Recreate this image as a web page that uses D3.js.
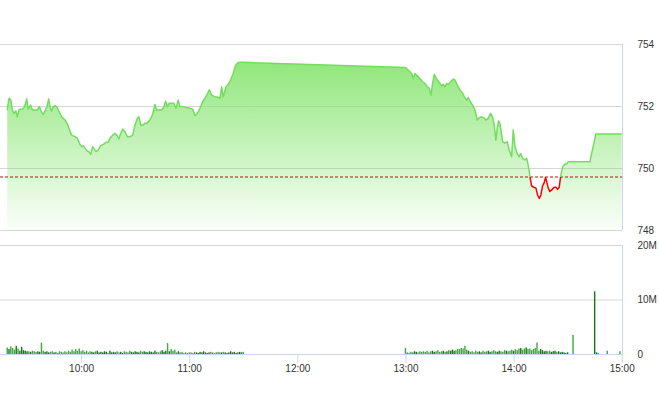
<!DOCTYPE html>
<html><head><meta charset="utf-8">
<script src="https://cdn.jsdelivr.net/npm/d3@7"></script>
<style>
html,body{margin:0;padding:0;background:#fff;}
svg{display:block;font-family:"Liberation Sans",Arial,sans-serif;}
</style></head><body>
<svg id="chart" width="660" height="412"></svg>
<script>
// ---------- data ----------
const priceTimes = [
"09:19:00","09:20:00","09:21:00","09:21:50","09:22:45","09:23:45","09:24:35","09:25:30","09:26:30","09:27:35",
"09:28:40","09:29:50","09:30:40","09:32:00","09:32:55","09:34:25","09:35:40","09:36:50","09:37:55","09:39:00",
"09:40:10","09:41:05","09:42:00","09:42:45","09:43:40","09:44:35","09:45:30","09:46:45","09:47:55","09:49:15",
"09:51:05","09:52:35","09:53:50","09:54:45","09:56:35","09:57:55","09:59:25","10:00:20","10:01:15","10:02:10",
"10:03:25","10:04:35","10:05:20","10:06:25","10:07:20","10:08:15","10:09:30","10:10:50","10:12:20","10:13:50",
"10:15:05","10:16:00","10:17:30","10:18:50","10:20:05","10:21:00","10:22:00","10:23:05","10:24:20","10:25:40",
"10:27:10","10:28:40","10:29:55","10:31:10","10:32:05","10:33:05","10:34:30","10:35:25","10:36:25","10:37:50",
"10:39:10","10:40:05","10:41:00","10:41:55","10:43:25","10:44:45","10:46:00","10:46:55","10:47:50","10:48:55",
"10:50:15","10:51:30","10:52:40","10:53:55","10:54:50","10:56:40","10:58:35","11:00:25","11:01:55","11:03:10",
"11:04:30","11:06:00","11:07:30","11:08:45","11:10:00","11:11:10","11:12:30","11:14:15","11:16:05","11:17:05",
"11:18:00","11:18:55","11:20:25","11:21:40","11:23:00","11:24:25","11:25:25","11:26:40","11:28:10","11:30:00",
"13:00:00","13:01:30","13:03:25","13:04:20","13:05:15","13:06:30","13:08:00","13:09:30","13:10:50","13:12:05",
"13:13:10","13:14:10","13:15:05","13:16:00","13:17:20","13:18:45","13:20:05","13:21:00","13:21:55","13:22:50",
"13:23:45","13:25:05","13:26:30","13:27:25","13:28:45","13:30:15","13:31:45","13:33:00","13:33:55","13:34:50",
"13:35:45","13:37:15","13:38:35","13:39:50","13:40:55","13:42:15","13:43:30","13:44:40","13:45:55","13:47:15",
"13:48:20","13:49:15","13:50:10","13:50:55","13:51:40","13:52:25","13:53:55","13:55:10","13:56:30","13:57:35",
"13:58:55","13:59:50","14:00:45","14:02:00","14:03:05","14:03:55","14:05:00","14:06:15","14:07:15","14:08:05",
"14:09:05","14:10:00","14:11:15","14:12:25","14:13:20","14:14:15","14:15:10","14:16:05","14:17:00","14:17:45",
"14:18:20","14:19:15","14:20:10","14:21:25","14:22:35","14:23:30","14:24:25","14:25:20","14:26:05","14:27:15",
"14:28:30","14:29:25","14:30:20","14:42:20","14:45:40","15:00:00"];
const priceValues = [
751.87,752.25,752.19,751.87,751.76,751.84,751.65,751.87,751.90,751.90,
751.98,752.23,751.90,752.03,751.87,751.87,751.87,751.98,751.82,751.73,
751.87,751.98,752.23,751.98,751.84,751.98,752.01,751.95,751.80,751.65,
751.55,751.39,751.19,751.06,751.01,750.96,750.76,750.69,750.72,750.64,
750.55,750.51,750.44,750.69,750.61,750.53,750.58,750.72,750.76,750.83,
750.83,750.96,751.06,751.12,751.04,750.94,751.12,751.26,751.17,751.01,
751.01,751.06,751.39,751.60,751.65,751.39,751.39,751.44,751.44,751.52,
751.65,751.82,752.05,751.87,751.87,751.87,751.98,752.16,751.98,752.09,
752.09,752.09,751.93,752.19,751.98,751.98,751.95,751.93,751.90,751.69,
751.76,751.93,752.14,752.25,752.38,752.52,752.35,752.30,752.28,752.25,
752.62,752.30,752.62,752.70,752.84,753.05,753.27,753.38,753.41,753.41,
753.24,753.16,753.05,752.89,753.05,752.98,752.89,752.78,752.73,752.62,
752.57,752.35,752.73,753.02,752.87,752.76,752.65,752.70,752.62,752.73,
752.70,752.78,752.87,752.84,752.68,752.52,752.41,752.27,752.19,752.27,
752.16,752.03,751.87,751.55,751.62,751.65,751.62,751.55,751.60,751.76,
751.65,751.39,750.90,751.28,751.52,751.44,750.85,750.80,750.85,750.58,
750.36,751.23,750.69,750.47,750.36,750.47,750.31,750.26,750.31,750.10,
749.72,749.42,749.38,749.35,749.13,749.02,749.13,749.42,749.53,749.70,
749.56,749.35,749.24,749.31,749.38,749.38,749.31,749.38,749.72,750.04,
750.13,750.13,750.20,750.20,751.10,751.10];
const referencePrice = 749.71;
const priceTicks = [748, 750, 752, 754];
const volumeTicks = [0, 10, 20];          // millions
const timeTicks = ["10:00","11:00","12:00","13:00","14:00","15:00"];
const sessionStart = "09:15", sessionEnd = "15:00";

// volumes in millions, one bar per minute
const amVolumeStart = "09:19";
const amVolumes = [
1.2,0.9,1.4,1.1,0.8,1.5,1.0,0.6,1.3,0.7,
0.6,0.5,0.5,0.4,0.6,0.5,0.4,0.5,0.4,2.1,
0.6,0.4,0.5,0.3,0.4,0.5,0.3,0.4,0.2,0.5,
0.4,0.3,0.5,0.3,0.6,0.4,0.8,0.5,0.9,0.6,
1.0,0.5,0.7,0.4,0.6,0.3,0.5,0.4,0.3,0.5,
0.6,0.3,0.4,0.3,0.5,0.4,0.2,0.6,0.3,0.4,
0.3,0.5,0.3,0.4,0.2,0.5,0.4,0.3,0.6,0.4,
0.3,0.5,0.4,0.3,0.6,0.4,0.5,0.4,0.3,0.5,
0.4,0.3,0.6,0.4,0.3,0.5,0.7,0.4,0.6,2.0,
0.5,0.9,0.6,0.8,0.3,0.5,0.3,0.4,0.2,0.3,
0.2,0.3,0.3,0.2,0.4,0.3,0.2,0.4,0.3,0.5,
0.3,0.2,0.3,0.4,0.3,0.2,0.3,0.4,0.3,0.3,
0.4,0.3,0.2,0.3,0.5,0.3,0.4,0.2,0.3,0.4,
0.3,0.4];
const pmVolumeStart = "13:00";
const pmVolumes = [
1.1,0.3,0.2,0.4,0.3,0.5,0.4,0.3,0.5,0.4,
0.5,0.4,0.6,0.3,0.5,0.6,0.4,0.5,0.7,0.4,
0.5,0.6,0.4,0.5,0.7,0.6,0.8,0.6,0.7,0.9,
0.9,1.1,1.0,1.5,0.8,0.6,0.4,0.5,0.3,0.6,
0.4,0.5,0.3,0.6,0.4,0.5,0.6,0.4,0.5,0.7,
0.5,0.4,0.6,0.5,0.4,0.7,0.6,0.5,0.6,0.8,
0.6,0.9,0.7,1.0,1.1,0.8,1.0,1.2,0.9,1.0,
0.7,0.9,1.1,2.1,0.6,0.9,0.7,0.5,0.6,0.5,
0.6,0.4,0.5,0.6,0.4,0.5,0.3,0.4,0.3,0.2,
0.3];
const lateVolumeTimes = ["14:33","14:45","14:46","14:47","14:52","14:59"];
const lateVolumes = [3.5, 11.5, 0.3, 0.2, 0.6, 0.5];

// ---------- layout ----------
const plotLeft = 0, plotRight = 621.7, borderX = 622.5;
const priceTop = 44, priceBottom = 230;
const volTop = 245, volBottom = 354;

const parseHMS = d3.timeParse("%H:%M:%S");
const parseHM = d3.timeParse("%H:%M");

const priceData = priceTimes.map((t, i) => ({ t: parseHMS(t), v: priceValues[i] }));
const volData = [];
amVolumes.forEach((v, i) => volData.push({ t: d3.timeMinute.offset(parseHM(amVolumeStart), i), v }));
pmVolumes.forEach((v, i) => volData.push({ t: d3.timeMinute.offset(parseHM(pmVolumeStart), i), v }));
lateVolumeTimes.forEach((t, i) => volData.push({ t: parseHM(t), v: lateVolumes[i] }));

const x = d3.scaleTime().domain([parseHM(sessionStart), parseHM(sessionEnd)]).range([plotLeft, plotRight]);
const yP = d3.scaleLinear().domain([748, 754]).range([priceBottom, priceTop]);
const yV = d3.scaleLinear().domain([0, 20]).range([volBottom, volTop]);

const svg = d3.select("#chart");
const defs = svg.append("defs");
const grad = defs.append("linearGradient").attr("id", "areaGrad")
  .attr("gradientUnits", "userSpaceOnUse")
  .attr("x1", 0).attr("x2", 0).attr("y1", priceTop).attr("y2", priceBottom);
grad.append("stop").attr("offset", 0).attr("stop-color", "#86e46f").attr("stop-opacity", 1);
grad.append("stop").attr("offset", 1).attr("stop-color", "#86e46f").attr("stop-opacity", 0.03);

const refY = yP(referencePrice);
defs.append("clipPath").attr("id", "clipUp").append("rect")
  .attr("x", 0).attr("y", 0).attr("width", 660).attr("height", refY);
defs.append("clipPath").attr("id", "clipDown").append("rect")
  .attr("x", 0).attr("y", refY).attr("width", 660).attr("height", 412 - refY);

const gridColor = "#d6d6d6", axisColor = "#ccd6eb", textColor = "#333";

// price axis + grid
const pAxis = svg.append("g").attr("transform", `translate(${borderX},0)`)
  .call(d3.axisRight(yP).tickValues(priceTicks).tickSize(-borderX).tickPadding(15).tickFormat(d3.format("d")));
pAxis.select(".domain").remove();
pAxis.selectAll("line").attr("stroke", gridColor);
pAxis.selectAll("text").attr("fill", textColor).attr("font-size", 10).attr("font-family", "Liberation Sans, Arial, sans-serif");

// volume axis + grid
const vAxis = svg.append("g").attr("transform", `translate(${borderX},0)`)
  .call(d3.axisRight(yV).tickValues(volumeTicks).tickSize(-borderX).tickPadding(15)
    .tickFormat(d => d === 0 ? "0" : d + "M"));
vAxis.select(".domain").remove();
vAxis.selectAll("line").attr("stroke", gridColor);
vAxis.selectAll("text").attr("fill", textColor).attr("font-size", 10).attr("font-family", "Liberation Sans, Arial, sans-serif");

// area
const area = d3.area().x(d => x(d.t)).y0(yP(748)).y1(d => yP(d.v));
svg.append("path").datum(priceData).attr("d", area).attr("fill", "url(#areaGrad)");

// reference line
svg.append("line").attr("x1", plotLeft).attr("x2", borderX).attr("y1", refY).attr("y2", refY)
  .attr("stroke", "#e00000").attr("stroke-width", 1).attr("stroke-dasharray", "3,2");

// price line (green above reference, red below)
const line = d3.line().x(d => x(d.t)).y(d => yP(d.v));
svg.append("path").datum(priceData).attr("d", line).attr("fill", "none")
  .attr("stroke", "#72dd5e").attr("stroke-width", 1.5).attr("stroke-linejoin", "round")
  .attr("clip-path", "url(#clipUp)");
svg.append("path").datum(priceData).attr("d", line).attr("fill", "none")
  .attr("stroke", "#ff0000").attr("stroke-width", 1.5).attr("stroke-linejoin", "round")
  .attr("clip-path", "url(#clipDown)");

// volume bars, coloured by price move over the minute
const bis = d3.bisector(d => d.t).left;
function priceAt(t) {
  const i = bis(priceData, t);
  if (i <= 0) return priceData[0].v;
  if (i >= priceData.length) return priceData[priceData.length - 1].v;
  const a = priceData[i - 1], b = priceData[i];
  return a.v + (b.v - a.v) * ((t - a.t) / (b.t - a.t));
}
svg.append("g").selectAll("rect").data(volData).join("rect")
  .attr("x", d => x(d.t) - 0.7).attr("width", 1.4)
  .attr("y", d => yV(d.v)).attr("height", d => yV(0) - yV(d.v))
  .attr("fill", d => priceAt(d.t) > priceAt(d3.timeMinute.offset(d.t, -1)) + 1e-9 ? "#0f7a10" : "#3fa83f");

// time axis
const xAxis = svg.append("g").attr("transform", `translate(0,${volBottom})`)
  .call(d3.axisBottom(x).tickValues(timeTicks.map(parseHM)).tickFormat(d3.timeFormat("%H:%M"))
    .tickSize(9).tickPadding(2));
xAxis.select(".domain").remove();
xAxis.selectAll("line").attr("stroke", axisColor);
xAxis.selectAll("text").attr("fill", textColor).attr("font-size", 10).attr("font-family", "Liberation Sans, Arial, sans-serif");
svg.append("line").attr("x1", plotLeft).attr("x2", borderX).attr("y1", volBottom + 0.5).attr("y2", volBottom + 0.5)
  .attr("stroke", axisColor);

// right borders
svg.append("line").attr("x1", borderX).attr("x2", borderX).attr("y1", priceTop).attr("y2", priceBottom).attr("stroke", axisColor);
svg.append("line").attr("x1", borderX).attr("x2", borderX).attr("y1", volTop).attr("y2", volBottom).attr("stroke", axisColor);
</script>
</body></html>
